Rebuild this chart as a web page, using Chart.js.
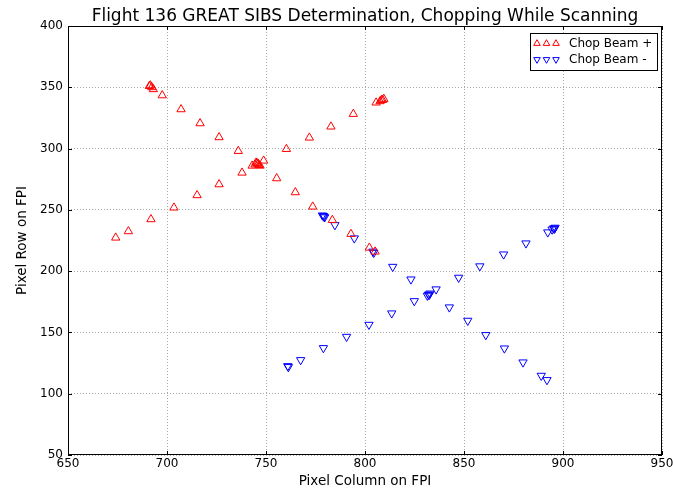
<!DOCTYPE html>
<html>
<head>
<meta charset="utf-8">
<title>Flight 136 GREAT SIBS Determination</title>
<script src="https://cdn.jsdelivr.net/npm/chart.js@4/dist/chart.umd.min.js"></script>
<style>
  html, body { margin: 0; padding: 0; background: #fff; }
  canvas { display: block; }
</style>
</head>
<body>
<canvas id="sibs" width="673" height="490"></canvas>
<script>
// Positions of the beam on the FPI, chop beam + (up triangles)
const plusCol = [691.1, 691.6, 692.3, 693.1, 697.6, 707.1, 716.7, 726.3, 736.0, 743.0, 744.5, 745.0,
                 745.5, 746.0, 746.5, 747.0, 748.8, 760.3, 771.9, 782.8, 794.1, 805.6, 807.6,
                 808.3, 808.9, 809.5, 737.9, 755.4, 764.8, 773.6, 783.5, 792.9, 802.2, 805.1,
                 726.3, 715.2, 703.5, 691.9, 680.5, 674.1];
const plusRow = [351.0, 351.5, 350.0, 348.4, 343.4, 332.0, 320.6, 309.2, 298.0, 286.0, 287.0, 288.5,
                 288.0, 287.5, 286.5, 286.0, 290.1, 299.6, 308.9, 317.9, 328.2, 337.5, 338.6,
                 339.5, 339.6, 340.5, 280.3, 275.7, 264.3, 252.6, 241.7, 230.3, 219.1, 215.9,
                 270.8, 261.9, 251.8, 242.3, 232.5, 227.3];

// chop beam - (down triangles)
const minusCol = [761.0, 761.3, 767.5, 779.0, 790.7, 802.0, 813.5, 824.9, 831.5, 832.1, 832.4, 832.8,
                  835.9, 847.3, 858.0, 870.0, 881.3, 892.3, 894.5, 895.3, 895.6, 896.0,
                  778.5, 779.0, 779.3, 779.6, 784.8, 794.6, 804.0, 804.4, 814.0, 823.2, 842.6,
                  851.9, 861.0, 870.4, 879.8, 889.0, 891.9];
const minusRow = [122.6, 121.8, 127.5, 137.3, 146.5, 156.3, 165.6, 175.6, 180.0, 181.0, 180.6, 181.8,
                  185.2, 194.7, 204.0, 213.7, 222.7, 231.7, 234.0, 235.0, 234.6, 235.5,
                  245.5, 245.0, 244.6, 244.0, 237.6, 226.8, 216.0, 215.0, 203.6, 193.3, 170.5,
                  159.6, 147.9, 137.0, 125.6, 114.7, 111.2];

const xTicks = [650, 700, 750, 800, 850, 900, 950];
const yTicks = [50, 100, 150, 200, 250, 300, 350, 400];

const seriesNames = ['Chop Beam +', 'Chop Beam -'];
const chartTitle = 'Flight 136 GREAT SIBS Determination, Chopping While Scanning';
const xTitle = 'Pixel Column on FPI';
const yTitle = 'Pixel Row on FPI';

const FONT = "'DejaVu Sans', sans-serif";
const RED = '#ff0000';
const BLUE = '#0000ff';

function toPoints(cols, rows) {
    return cols.map((c, i) => ({ x: c, y: rows[i] }));
}

// small hollow triangle for the legend, pointing up or down
function legendTriangle(ctx, x, y, r, down, color) {
    const s = down ? -1 : 1;
    ctx.beginPath();
    ctx.moveTo(x, y - s * r);
    ctx.lineTo(x + r * 0.866, y + s * r * 0.5);
    ctx.lineTo(x - r * 0.866, y + s * r * 0.5);
    ctx.closePath();
    ctx.strokeStyle = color;
    ctx.lineWidth = 1;
    ctx.stroke();
}

// Frame, inward ticks, titles and the three-marker legend
const decorations = {
    id: 'decorations',
    afterDraw(chart) {
        const ctx = chart.ctx;
        const a = chart.chartArea;
        const xs = chart.scales.x;
        const ys = chart.scales.y;
        ctx.save();

        ctx.strokeStyle = '#000';
        ctx.lineWidth = 1;
        ctx.strokeRect(Math.round(a.left) + 0.5, Math.round(a.top) + 0.5,
                       Math.round(a.right - a.left) - 1, Math.round(a.bottom - a.top) - 1);

        ctx.beginPath();
        xTicks.forEach(v => {
            const px = Math.round(xs.getPixelForValue(v)) + 0.5;
            ctx.moveTo(px, a.bottom); ctx.lineTo(px, a.bottom - 4);
            ctx.moveTo(px, a.top); ctx.lineTo(px, a.top + 4);
        });
        yTicks.forEach(v => {
            const py = Math.round(ys.getPixelForValue(v)) + 0.5;
            ctx.moveTo(a.left, py); ctx.lineTo(a.left + 4, py);
            ctx.moveTo(a.right, py); ctx.lineTo(a.right - 4, py);
        });
        ctx.stroke();

        ctx.fillStyle = '#000';
        ctx.textAlign = 'center';
        ctx.textBaseline = 'middle';
        ctx.font = '17px ' + FONT;
        ctx.fillText(chartTitle, (a.left + a.right) / 2, 17);
        ctx.font = '13.5px ' + FONT;
        ctx.fillText(xTitle, (a.left + a.right) / 2, 481);
        ctx.save();
        ctx.translate(22, (a.top + a.bottom) / 2);
        ctx.rotate(-Math.PI / 2);
        ctx.fillText(yTitle, 0, 0);
        ctx.restore();

        // legend box
        const bx = 530, by = 33, bw = 127, bh = 37;
        ctx.fillStyle = '#fff';
        ctx.fillRect(bx, by, bw, bh);
        ctx.strokeStyle = '#000';
        ctx.strokeRect(bx + 0.5, by + 0.5, bw, bh);
        const rows = [
            { y: 43.5, color: RED, down: false },
            { y: 59.5, color: BLUE, down: true }
        ];
        rows.forEach((r, i) => {
            [537, 546.5, 556].forEach(mx => legendTriangle(ctx, mx, r.y, 3.8, r.down, r.color));
            ctx.fillStyle = '#000';
            ctx.textAlign = 'left';
            ctx.font = '12px ' + FONT;
            ctx.fillText(seriesNames[i], 569, r.y);
        });
        ctx.restore();
    }
};

new Chart(document.getElementById('sibs'), {
    type: 'scatter',
    data: {
        datasets: [
            {
                label: seriesNames[0],
                data: toPoints(plusCol, plusRow),
                pointStyle: 'triangle',
                pointRadius: 4.8,
                pointBorderWidth: 1,
                borderColor: RED,
                pointBorderColor: RED,
                pointBackgroundColor: 'rgba(0,0,0,0)'
            },
            {
                label: seriesNames[1],
                data: toPoints(minusCol, minusRow),
                pointStyle: 'triangle',
                rotation: 180,
                pointRadius: 4.8,
                pointBorderWidth: 1,
                borderColor: BLUE,
                pointBorderColor: BLUE,
                pointBackgroundColor: 'rgba(0,0,0,0)'
            }
        ]
    },
    plugins: [decorations],
    options: {
        responsive: false,
        animation: false,
        devicePixelRatio: 1,
        layout: { padding: { top: 26, right: 11, left: 0, bottom: 0 } },
        plugins: {
            legend: { display: false },
            tooltip: { enabled: false }
        },
        scales: {
            x: {
                type: 'linear',
                min: 650,
                max: 950,
                afterBuildTicks(scale) { scale.ticks = xTicks.map(v => ({ value: v })); },
                afterFit(scale) {
                    scale.height = 35;
                    scale.paddingLeft = 0;
                    scale.paddingRight = 0;
                },
                ticks: { color: '#000', font: { family: FONT, size: 12 }, padding: 2 },
                grid: { color: '#a8a8a8', drawTicks: false },
                border: { display: false, dash: [1, 2] }
            },
            y: {
                type: 'linear',
                min: 50,
                max: 400,
                afterBuildTicks(scale) { scale.ticks = yTicks.map(v => ({ value: v })); },
                afterFit(scale) {
                    scale.width = 68;
                    scale.paddingTop = 0;
                    scale.paddingBottom = 0;
                },
                ticks: { color: '#000', font: { family: FONT, size: 12 }, padding: 5 },
                grid: { color: '#a8a8a8', drawTicks: false },
                border: { display: false, dash: [1, 2] }
            }
        }
    }
});
</script>
</body>
</html>
